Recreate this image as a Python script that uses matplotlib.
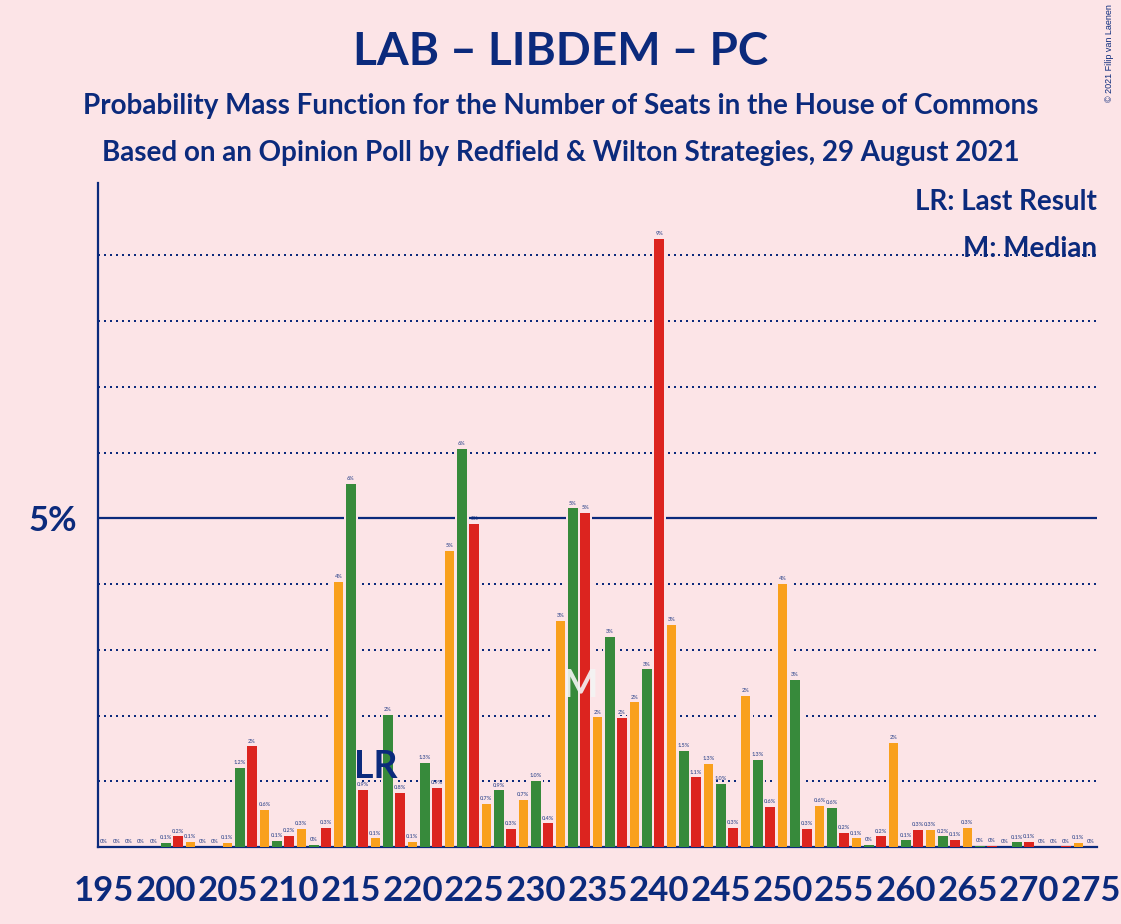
import matplotlib
matplotlib.use("Agg")
import matplotlib.pyplot as plt

# ---- data ----
seats = list(range(195, 276))
probs = [
    0, 0, 0, 0, 0,                      # 195-199
    0.06, 0.16, 0.08, 0, 0,             # 200-204
    0.06, 1.2, 1.53, 0.57, 0.09,        # 205-209
    0.17, 0.27, 0.03, 0.29, 4.03,       # 210-214
    5.52, 0.87, 0.13, 2.01, 0.82,       # 215-219
    0.08, 1.28, 0.9, 4.51, 6.06,        # 220-224
    4.92, 0.66, 0.86, 0.28, 0.72,       # 225-229
    1.0, 0.36, 3.44, 5.15, 5.08,        # 230-234
    1.97, 3.2, 1.96, 2.2, 2.7,          # 235-239
    9.25, 3.38, 1.46, 1.06, 1.26,       # 240-244
    0.96, 0.29, 2.3, 1.32, 0.61,        # 245-249
    4.0, 2.54, 0.28, 0.62, 0.59,        # 250-254
    0.22, 0.13, 0.03, 0.16, 1.58,       # 255-259
    0.1, 0.26, 0.26, 0.16, 0.11,        # 260-264
    0.29, 0.02, 0.02, 0, 0.07,          # 265-269
    0.08, 0, 0, 0.01, 0.06,             # 270-274
    0,                                  # 275
]
last_result = 217
median = 234
xtick_values = list(range(195, 276, 5))
xtick_labels = [str(v) for v in xtick_values]

title = "LAB – LIBDEM – PC"
subtitle1 = "Probability Mass Function for the Number of Seats in the House of Commons"
subtitle2 = "Based on an Opinion Poll by Redfield & Wilton Strategies, 29 August 2021"

# ---- style ----
BG = "#FCE4E7"
NAVY = "#0B2A7C"
PARTY = {2: "#378A3B", 0: "#DC241F", 1: "#F9A01C"}

plt.rcParams['font.family'] = ['Lato', 'DejaVu Sans']

W, H = 1121, 924
fig = plt.figure(figsize=(W / 100, H / 100), dpi=100, facecolor=BG)
ax = fig.add_axes([98 / W, 1 - 847 / H, 999 / W, (847 - 183) / H])
ax.set_facecolor(BG)
ax.set_xlim(194.5, 275.5)
ax.set_ylim(0, 10.1)

for g in [1, 2, 3, 4, 6, 7, 8, 9]:
    ax.axhline(g, color=NAVY, lw=1.44, ls=(0, (1, 2)), zorder=1)
ax.axhline(5, color=NAVY, lw=1.6, zorder=1)

colors = [PARTY[s % 3] for s in seats]
ax.bar(seats, [p + 0.035 for p in probs], width=1.18, color=BG, zorder=2)
ax.bar(seats, probs, width=0.81, color=colors, zorder=3)


def fmt(v):
    if v < 0.05:
        return "0%"
    if v < 1.5:
        return f"{v:.1f}%"
    return f"{v:.0f}%"


for s, p in zip(seats, probs):
    ax.text(s, p + 0.08, fmt(p), ha='center', va='center', fontsize=4,
            color=NAVY, alpha=0.7, fontweight='bold', zorder=4)

ax.text(last_result, 1.05, "LR", ha='center', va='baseline', fontsize=27,
        fontweight='bold', color=NAVY, zorder=5)
ax.text(median - 0.34, 2.28, "M", ha='center', va='baseline', fontsize=27,
        fontweight='bold', color='#f4f4f4', alpha=0.9, zorder=5)

ax.set_xticks(xtick_values)
ax.set_xticklabels(xtick_labels, fontsize=25, fontweight='bold', color=NAVY)
ax.tick_params(axis='x', length=0, pad=20)
ax.set_yticks([5])
ax.set_yticklabels(["5%"], fontsize=25, fontweight='bold', color=NAVY)
ax.tick_params(axis='y', length=0, pad=15)

for side in ['top', 'right']:
    ax.spines[side].set_visible(False)
for side in ['left', 'bottom']:
    ax.spines[side].set_color(NAVY)
    ax.spines[side].set_linewidth(1.6)

fig.text(0.5, 1 - 65 / H, title, ha='center', va='baseline', fontsize=33,
         fontweight='bold', color=NAVY)
fig.text(0.5, 1 - 114 / H, subtitle1, ha='center', va='baseline', fontsize=20,
         fontweight='bold', color=NAVY)
fig.text(0.5, 1 - 161.5 / H, subtitle2, ha='center', va='baseline', fontsize=20,
         fontweight='bold', color=NAVY)
fig.text(1097 / W, 1 - 210 / H, "LR: Last Result", ha='right', va='baseline',
         fontsize=20, fontweight='bold', color=NAVY)
fig.text(1097 / W, 1 - 257 / H, "M: Median", ha='right', va='baseline',
         fontsize=20, fontweight='bold', color=NAVY)
fig.text(1110 / W, 0.995, "© 2021 Filip van Laenen", rotation=90, ha='center',
         va='top', fontsize=6.5, color=NAVY, family=['Liberation Sans', 'DejaVu Sans'])

fig.savefig('out.png', dpi=100, facecolor=BG)
